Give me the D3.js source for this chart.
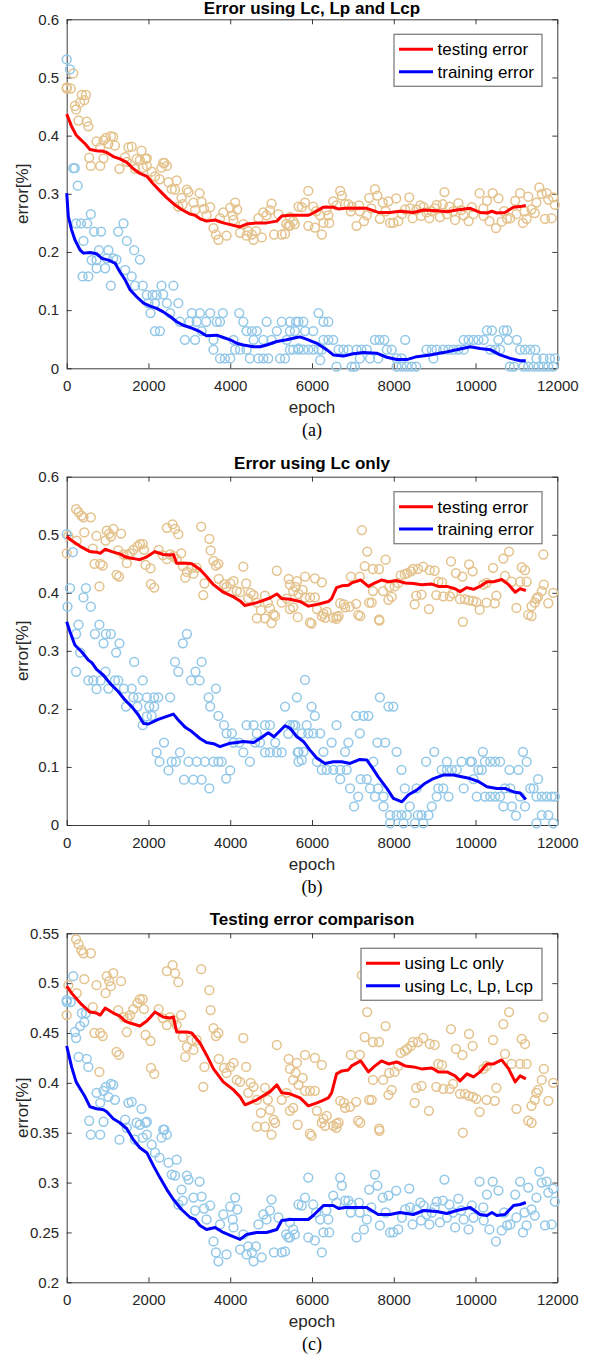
<!DOCTYPE html>
<html>
<head>
<meta charset="utf-8">
<script src="https://cdn.jsdelivr.net/npm/d3@7"></script>
<style>
  body { margin: 0; background: #fff; }
  svg { display: block; font-family: "Liberation Sans", Arial, Helvetica, sans-serif; }
</style>
</head>
<body>
<svg id="chart" width="597" height="1359"></svg>
<script>
// ---- data: [epoch, error] ----

// testing error, model using Lc, Lp and Lcp (panel a tan / panel c blue)
const aTestPts = [[0,0.481],[0,0.483],[100,0.481],[160,0.507],[200,0.451],[230,0.445],[330,0.457],[430,0.461],[370,0.47],[470,0.47],[290,0.426],[490,0.424],[530,0.416],[730,0.39],[820,0.38],[960,0.396],[1020,0.386],[1140,0.398],[1180,0.383],[900,0.392],[1080,0.399],[1510,0.38],[1590,0.381],[1830,0.374],[550,0.362],[900,0.361],[1430,0.363],[1710,0.36],[1960,0.361],[2390,0.353],
  [590,0.348],[820,0.348],[1290,0.343],[1470,0.355],[1670,0.343],[1790,0.358],[1930,0.36],[1960,0.348],[1860,0.345],[2080,0.338],[2160,0.33],[2270,0.325],[2320,0.345],[2450,0.348],[2360,0.353],[2490,0.32],[2570,0.308],[2650,0.307],[2690,0.323],[2730,0.278],[2810,0.293],[2840,0.282],[2940,0.307],[2980,0.303],[3100,0.285],[3140,0.272],[3250,0.301],[3300,0.286],[3360,0.274],[3420,0.263],[3510,0.277],[3590,0.241],[3650,0.23],[3710,0.221],[3750,0.258],[3830,0.268],[3910,0.228],[4000,0.276],[4060,0.263],[4120,0.285],[4170,0.273],[4080,0.255],[4240,0.233],[4320,0.248],[4400,0.228],[4440,0.236],[4530,0.23],[4570,0.221],[4630,0.236],[4690,0.258],[4770,0.225],[4810,0.268],[4890,0.263],[4970,0.272],[5010,0.283],[5070,0.23],[5180,0.265],[5260,0.23],[5340,0.231],[5370,0.248],[5420,0.245],[5540,0.253],[5670,0.278],
  [5460,0.26],[5460,0.245],[5580,0.248],[5830,0.285],[5750,0.277],[5910,0.305],[5910,0.245],[6030,0.278],[6070,0.242],[6200,0.263],[6240,0.23],[6280,0.25],[6400,0.263],[6420,0.25],[6520,0.287],[6690,0.305],[6730,0.297],[6810,0.282],[6890,0.282],[6970,0.278],[7090,0.245],[7170,0.27],[7270,0.253],[7340,0.263],[7400,0.293],[7540,0.308],[7600,0.297],[7660,0.257],[7730,0.285],[7870,0.287],[7910,0.25],[7990,0.25],[8060,0.292],[8110,0.253],[8280,0.273],[8380,0.294],[8460,0.258],[8560,0.273],[8670,0.262],[8730,0.277],[8870,0.258],[8930,0.27],[9050,0.281],[9130,0.26],[9200,0.282],[9240,0.303],[9360,0.278],[9500,0.255],[9580,0.284],[9710,0.263],[9830,0.253],[9910,0.277],[10100,0.301],[10190,0.275],[10280,0.288],[10340,0.253],[10420,0.301],[10500,0.241],[10560,0.292],[10640,0.252],[10770,0.257],[10850,0.258],[10970,0.288],[11090,0.301],[11160,0.25],[11250,0.257],[11290,0.295],[11370,0.273],[11450,0.267],[11490,0.285],[11560,0.311],[11620,0.3],[11700,0.257],[11740,0.301],[11860,0.258],[11900,0.294],[11940,0.281],[11780,0.29],
  [6100,0.27],[6350,0.272],[6600,0.28],[6950,0.27],[7150,0.28],[7450,0.275],[7800,0.27],[8200,0.265],[8400,0.275],[8650,0.28],[8800,0.268],[9000,0.275],[9300,0.265],[9450,0.27],[9650,0.272],[9950,0.265],[10200,0.262],[10700,0.27],[11000,0.265],[11200,0.27]];

const aTestLine = [[0,0.437],[120,0.416],[230,0.401],[330,0.394],[450,0.386],[570,0.376],[730,0.374],[900,0.373],[980,0.371],[1140,0.364],[1300,0.36],[1470,0.354],[1630,0.343],[1790,0.335],[1960,0.33],[2120,0.317],[2280,0.305],[2450,0.293],[2610,0.283],[2810,0.273],[3020,0.265],[3140,0.263],[3260,0.257],[3420,0.253],[3630,0.255],[3830,0.25],[4000,0.247],[4240,0.243],[4400,0.248],[4650,0.25],[4890,0.25],[5140,0.253],[5260,0.262],[5460,0.263],[5710,0.263],[5910,0.263],[6030,0.267],[6280,0.277],[6400,0.277],[6520,0.277],[6650,0.274],[6810,0.275],[7010,0.275],[7340,0.275],[7620,0.268],[7910,0.268],[8150,0.27],[8480,0.268],[8730,0.272],[9050,0.271],[9300,0.269],[9540,0.272],[9870,0.275],[10110,0.268],[10280,0.267],[10400,0.27],[10520,0.267],[10720,0.268],[10930,0.277],[11090,0.278],[11230,0.28]];

// training error, model using Lc, Lp and Lcp (panel a blue)
const aTrainPts = [[0,0.531],[80,0.514],[160,0.344],[200,0.344],[270,0.314],[590,0.265],[230,0.249],[350,0.249],[500,0.249],[410,0.219],[670,0.235],[840,0.235],[390,0.158],[530,0.158],[610,0.186],[730,0.186],[790,0.203],[1020,0.203],[730,0.172],[940,0.172],[980,0.189],[1140,0.189],[1080,0.142],[1260,0.235],[1390,0.249],[1220,0.187],[1470,0.219],[1650,0.203],[1790,0.187],[1430,0.169],[1590,0.158],[1670,0.142],[1860,0.142],[1960,0.126],[2000,0.112],[2100,0.126],[2160,0.112],[2050,0.095],[2200,0.126],[2320,0.142],[2360,0.127],[2450,0.112],[2610,0.142],[2530,0.095],[2730,0.112],[2770,0.08],[2160,0.064],[2280,0.064],[2890,0.049],[3060,0.095],[3000,0.08],[3180,0.08],[3140,0.049],[3260,0.095],[3300,0.064],[3410,0.08],[3510,0.095],[3590,0.049],[3670,0.08],[3750,0.08],[3820,0.095],[3590,0.032],[3750,0.017],[3870,0.017],[4000,0.017],[4080,0.049],[4120,0.032],[4220,0.095],[4320,0.08],[4400,0.064],[4530,0.064],[4650,0.064],[4240,0.032],[4400,0.032],[4480,0.017],[4690,0.017],[4810,0.017],[4930,0.017],[4570,0.049],[4810,0.049],[4890,0.08],[5140,0.064],[5260,0.08],[5010,0.049],[5220,0.017],[5340,0.017],[5380,0.049],[5460,0.064],[5610,0.08],[5670,0.034],
  [5460,0.08],[5670,0.08],[5790,0.08],[5580,0.064],[5830,0.064],[6030,0.064],[6160,0.095],[6280,0.08],[6400,0.08],[5460,0.032],[5540,0.032],[5670,0.032],[5790,0.032],[5910,0.032],[6030,0.032],[6160,0.032],[6240,0.032],[6200,0.014],[6280,0.049],[6400,0.049],[6520,0.049],[6600,0.003],[6650,0.032],[6770,0.032],[6890,0.032],[7090,0.032],[7210,0.032],[7340,0.032],[6970,0.003],[7050,0.003],[7170,0.017],[7420,0.017],[7620,0.017],[7540,0.049],[7650,0.049],[7770,0.049],[7830,0.032],[7950,0.032],[8070,0.017],[8190,0.017],[8280,0.049],[8070,0.003],[8190,0.003],[8320,0.003],[8440,0.003],[8550,0.003],[8800,0.032],[8930,0.032],[9050,0.032],[8970,0.017],[9210,0.032],[9340,0.032],[9460,0.032],[9580,0.032],[9710,0.032],[9710,0.049],[9830,0.049],[9950,0.049],[10070,0.049],[10200,0.049],[10280,0.065],[10400,0.065],[10770,0.065],[10690,0.065],[10360,0.032],[10480,0.032],[10600,0.032],[10560,0.049],[10800,0.049],[11010,0.049],[10840,0.003],[10940,0.003],[11090,0.032],[11210,0.032],[11340,0.032],[11460,0.032],[11170,0.003],[11290,0.003],[11420,0.003],[11540,0.003],[11660,0.003],[11490,0.017],[11660,0.017],[11820,0.017],[11940,0.017],[11780,0.003],[11900,0.003]];

const aTrainLine = [[0,0.301],[40,0.261],[120,0.238],[200,0.221],[330,0.203],[410,0.198],[570,0.199],[730,0.197],[860,0.189],[1020,0.186],[1180,0.181],[1300,0.166],[1430,0.152],[1550,0.135],[1710,0.123],[1880,0.112],[2040,0.107],[2200,0.103],[2360,0.097],[2530,0.089],[2690,0.08],[2850,0.074],[3060,0.069],[3260,0.063],[3420,0.056],[3670,0.057],[3830,0.053],[4000,0.049],[4160,0.043],[4320,0.04],[4570,0.037],[4730,0.037],[4890,0.04],[5140,0.046],[5380,0.049],[5620,0.053],[5710,0.054],[5910,0.049],[6120,0.043],[6360,0.032],[6520,0.023],[6770,0.021],[7010,0.025],[7260,0.027],[7580,0.026],[7830,0.019],[8070,0.015],[8320,0.015],[8560,0.02],[8890,0.023],[9210,0.027],[9540,0.032],[9870,0.037],[10110,0.034],[10360,0.032],[10600,0.023],[10850,0.017],[11090,0.013],[11230,0.013]];

// testing error, model using Lc only (panel b tan / panel c tan)
const bTestPts = [[0,0.468],[40,0.498],[230,0.544],[290,0.539],[360,0.533],[410,0.53],[590,0.53],[430,0.504],[245,0.49],[730,0.498],[640,0.476],[680,0.45],[820,0.45],[880,0.447],[800,0.411],[980,0.507],[1040,0.502],[1140,0.51],[1080,0.497],[950,0.49],[1330,0.502],[1220,0.431],[1280,0.428],[1260,0.473],[1390,0.466],[1490,0.465],[1550,0.468],[1470,0.451],[1630,0.474],[1730,0.48],[1790,0.484],[1860,0.484],[1890,0.474],[1930,0.448],[2050,0.442],[2060,0.415],[2140,0.409],[2250,0.474],[2350,0.465],[2450,0.458],[2530,0.466],[2610,0.463],[2690,0.458],[2450,0.512],[2590,0.518],[2650,0.51],[2730,0.501],[2800,0.468],[2840,0.446],[2900,0.426],[2940,0.436],[3060,0.443],[3100,0.433],[3180,0.443],[3290,0.514],[3490,0.493],[3520,0.473],[3590,0.455],[3650,0.447],[3710,0.45],[3340,0.396],[3370,0.416],[3720,0.424],[3850,0.415],[3910,0.41],[4000,0.416],[4080,0.42],[4160,0.403],[4240,0.401],[4320,0.445],[4390,0.416],[4440,0.39],[4500,0.4],[4570,0.396],[4650,0.383],[4750,0.37],[4850,0.395],[4920,0.383],[4970,0.373],[5060,0.363],[5140,0.438],[5260,0.383],[5380,0.39],[5430,0.424],[5540,0.403],[5600,0.41],[5670,0.398],
  [4650,0.356],[4850,0.356],[5010,0.348],[5100,0.36],[5650,0.358],[5950,0.349],[5990,0.347],[6320,0.357],[6520,0.357],[6600,0.359],[6240,0.36],[7180,0.36],[7650,0.352],[9690,0.35],[11370,0.36],
  [7220,0.508],[7350,0.471],[7800,0.457],[7290,0.446],[7490,0.441],[7640,0.441],[6950,0.428],[7170,0.428],[5830,0.428],[6070,0.425],[6240,0.418],[5630,0.42],[5770,0.405],[5460,0.414],[5830,0.392],[5950,0.392],[6070,0.392],[5540,0.375],[5460,0.372],[6120,0.372],[6280,0.364],[6360,0.367],[6650,0.36],[6600,0.355],[6690,0.382],[6780,0.38],[6810,0.375],[7080,0.381],[6930,0.376],[7130,0.362],[7400,0.383],[7460,0.383],[7870,0.388],[7950,0.393],[7490,0.403],[7740,0.403],[7640,0.354],[7890,0.41],[8020,0.411],[8110,0.417],[8170,0.43],[8270,0.432],[8330,0.434],[8420,0.437],[8470,0.441],[8590,0.441],[8720,0.445],[8880,0.439],[9000,0.438],[9090,0.419],[9180,0.418],[8510,0.38],[8550,0.395],[8680,0.397],[8860,0.372],[9040,0.396],[9210,0.394],[9370,0.394],[9450,0.399],[9620,0.389],[9740,0.389],[9840,0.387],[9940,0.386],[10020,0.384],[10100,0.371],[10270,0.383],[10470,0.382],[10510,0.395],[9400,0.454],[9520,0.434],[9680,0.428],[9840,0.449],[9930,0.437],[10190,0.414],[10270,0.417],[10430,0.443],[10680,0.459],[10720,0.429],[10820,0.471],[10880,0.419],[11130,0.444],[11210,0.439],[11250,0.419],[11090,0.419],[11000,0.374],[11290,0.362],[11370,0.377],[11450,0.383],[11490,0.39],[11530,0.393],[11620,0.403],[11670,0.414],[11660,0.466],[11780,0.382],[11900,0.4]];

const bTestLine = [[0,0.497],[120,0.49],[330,0.48],[570,0.471],[730,0.47],[820,0.468],[940,0.475],[1140,0.47],[1300,0.467],[1430,0.462],[1550,0.46],[1710,0.458],[1790,0.457],[1960,0.462],[2160,0.471],[2360,0.466],[2530,0.465],[2610,0.466],[2690,0.451],[2940,0.451],[3060,0.45],[3260,0.44],[3420,0.428],[3590,0.414],[3830,0.401],[4080,0.393],[4240,0.386],[4360,0.378],[4480,0.38],[4650,0.383],[4810,0.387],[4970,0.391],[5140,0.398],[5260,0.39],[5460,0.389],[5710,0.385],[5910,0.377],[6120,0.38],[6240,0.382],[6400,0.385],[6480,0.39],[6600,0.409],[6730,0.412],[6890,0.413],[6970,0.417],[7190,0.422],[7380,0.411],[7540,0.417],[7700,0.422],[7870,0.419],[8070,0.421],[8280,0.417],[8480,0.416],[8680,0.414],[8930,0.415],[9090,0.411],[9300,0.411],[9500,0.407],[9620,0.402],[9790,0.409],[9950,0.406],[10110,0.411],[10280,0.419],[10440,0.419],[10640,0.423],[10810,0.414],[10970,0.401],[11090,0.407],[11230,0.404]];

// training error, model using Lc only (panel b blue)
const bTrainPts = [[0,0.501],[150,0.47],[80,0.408],[20,0.376],[410,0.392],[470,0.408],[590,0.376],[290,0.345],[230,0.329],[330,0.297],[800,0.345],[690,0.329],[900,0.313],[960,0.329],[1080,0.329],[1290,0.313],[1210,0.297],[1650,0.281],[2650,0.281],[2940,0.329],[2840,0.313],[3300,0.281],[230,0.264],[530,0.249],[650,0.249],[730,0.234],[830,0.249],[950,0.264],[1020,0.235],[1180,0.249],[1260,0.249],[1400,0.235],[1590,0.235],[1450,0.204],[1630,0.22],[1750,0.22],[1860,0.249],[1730,0.204],[1860,0.172],[1960,0.22],[2140,0.22],[2020,0.204],[2140,0.204],[1960,0.187],[2080,0.188],[2240,0.22],[2530,0.22],[2200,0.125],[2270,0.109],[2380,0.142],[2490,0.094],[2570,0.109],[2670,0.109],[2770,0.125],[2870,0.078],[2980,0.109],[3100,0.078],[3180,0.109],[3300,0.078],[3380,0.109],[3490,0.063],[3590,0.109],[3710,0.109],[3790,0.109],[3900,0.08],[4000,0.094],[3910,0.158],[4040,0.158],[3850,0.172],[3710,0.188],[3510,0.204],[3470,0.22],[3650,0.235],[2730,0.264],[3040,0.249],[3150,0.264],[3250,0.249],[4080,0.142],[4220,0.142],[4320,0.125],[4400,0.172],[4570,0.172],[4480,0.109],[4610,0.142],[4730,0.142],[4650,0.158],[4850,0.125],[4970,0.125],[4850,0.172],[4970,0.172],[5100,0.142],[5140,0.125],[5260,0.125],[5340,0.204],[5420,0.157],[5460,0.172],[5590,0.172],[5650,0.125],[5670,0.109],[5630,0.22],
  [5540,0.172],[5830,0.25],[5750,0.158],[5910,0.158],[6030,0.158],[6200,0.158],[5670,0.126],[5790,0.126],[5750,0.112],[5870,0.172],[5990,0.204],[6070,0.188],[6120,0.109],[6280,0.126],[6240,0.095],[6360,0.095],[6520,0.095],[6690,0.095],[6850,0.095],[6480,0.142],[6600,0.172],[6690,0.079],[6810,0.126],[6890,0.142],[6930,0.063],[7030,0.032],[7080,0.188],[7260,0.188],[7380,0.188],[7170,0.158],[7130,0.049],[7190,0.079],[7340,0.079],[7420,0.063],[7500,0.109],[7540,0.049],[7750,0.049],[7600,0.142],[7790,0.142],[7660,0.22],[7750,0.032],[7620,0.063],[7870,0.204],[7990,0.204],[8070,0.126],[7910,0.017],[8070,0.017],[8190,0.017],[8320,0.017],[7910,0.003],[8240,0.003],[8520,0.003],[8720,0.003],[8190,0.095],[8270,0.063],[8390,0.032],[8590,0.017],[8680,0.017],[8560,0.063],[8790,0.109],[8850,0.017],[8930,0.032],[8990,0.126],[9050,0.049],[9090,0.063],[9210,0.063],[9170,0.095],[9300,0.095],[9420,0.095],[9540,0.095],[9300,0.109],[9340,0.049],[9660,0.109],[9870,0.109],[9910,0.109],[9710,0.063],[9950,0.079],[10030,0.049],[10230,0.049],[10360,0.049],[10480,0.049],[10600,0.049],[10070,0.095],[10150,0.095],[10180,0.126],[10230,0.109],[10360,0.109],[10480,0.109],[10600,0.109],[10680,0.032],[10890,0.032],[10830,0.095],[11050,0.095],[10720,0.063],[10850,0.063],[10990,0.016],[11160,0.126],[11250,0.109],[11090,0.049],[11210,0.032],[11340,0.063],[11420,0.063],[11530,0.079],[11490,0.003],[11620,0.017],[11780,0.017],[11490,0.049],[11620,0.049],[11740,0.049],[11860,0.049],[11940,0.049],[11900,0.003]];

const bTrainLine = [[0,0.35],[80,0.333],[200,0.31],[370,0.298],[530,0.284],[610,0.28],[730,0.268],[900,0.258],[1060,0.244],[1260,0.23],[1430,0.215],[1590,0.204],[1750,0.19],[1880,0.175],[2000,0.174],[2120,0.178],[2240,0.182],[2450,0.187],[2610,0.191],[2730,0.181],[2890,0.169],[3060,0.161],[3260,0.149],[3420,0.142],[3590,0.14],[3750,0.135],[4000,0.141],[4160,0.142],[4320,0.144],[4570,0.142],[4730,0.149],[4930,0.159],[5070,0.152],[5200,0.161],[5340,0.171],[5460,0.167],[5630,0.152],[5790,0.144],[5950,0.129],[6120,0.115],[6320,0.106],[6520,0.109],[6730,0.109],[6930,0.106],[7170,0.113],[7340,0.112],[7460,0.1],[7620,0.083],[7830,0.063],[7990,0.046],[8200,0.04],[8360,0.052],[8560,0.06],[8770,0.072],[8970,0.08],[9210,0.086],[9460,0.086],[9660,0.083],[9870,0.08],[10070,0.075],[10280,0.066],[10520,0.063],[10720,0.063],[10930,0.057],[11090,0.055],[11230,0.044]];

// ticks and labels
const xTicks = [0, 2000, 4000, 6000, 8000, 10000, 12000];
const yTicksAB = [0, 0.1, 0.2, 0.3, 0.4, 0.5, 0.6];
const yTicksC = [0.2, 0.25, 0.3, 0.35, 0.4, 0.45, 0.5, 0.55];
const titles = ["Error using Lc, Lp and Lcp", "Error using Lc only", "Testing error comparison"];
const captions = ["(a)", "(b)", "(c)"];
const legendAB = ["testing error", "training error"];
const legendC = ["using Lc only", "using Lc, Lp, Lcp"];

// colours
const tan = "#e4c28c", lightBlue = "#93c8e8", red = "#ff0000", blue = "#0000ff";

const svg = d3.select("#chart");
const left = 66.7, right = 557.3;
const x = d3.scaleLinear().domain([0, 12000]).range([left, right]);

const panels = [
  { top: 19.3, bottom: 368.3, yDomain: [0, 0.6], yTicks: yTicksAB, title: titles[0], caption: captions[0],
    pts: [[aTestPts, tan], [aTrainPts, lightBlue]], lines: [[aTestLine, red], [aTrainLine, blue]],
    legend: legendAB, legW: 148 },
  { top: 476.7, bottom: 825, yDomain: [0, 0.6], yTicks: yTicksAB, title: titles[1], caption: captions[1],
    pts: [[bTestPts, tan], [bTrainPts, lightBlue]], lines: [[bTestLine, red], [bTrainLine, blue]],
    legend: legendAB, legW: 148 },
  { top: 933.3, bottom: 1282.3, yDomain: [0.2, 0.55], yTicks: yTicksC, title: titles[2], caption: captions[2],
    pts: [[bTestPts, tan], [aTestPts, lightBlue]], lines: [[bTestLine, red], [aTestLine, blue]],
    legend: legendC, legW: 181 }
];

const fmt = d => String(+d.toFixed(2));
const axisColor = "#262626";

panels.forEach(p => {
  const y = d3.scaleLinear().domain(p.yDomain).range([p.bottom, p.top]);
  const g = svg.append("g");

  // axes (ticks point inward on all four sides)
  const styleAxis = sel => {
    sel.selectAll("path, line").attr("stroke", axisColor).attr("stroke-width", 0.9);
    sel.selectAll("text").attr("fill", axisColor).style("font-size", "15px")
      .style("font-family", '"Liberation Sans", Arial, sans-serif');
  };
  g.append("g").attr("transform", `translate(0,${p.bottom})`)
    .call(d3.axisBottom(x).tickValues(xTicks).tickSizeInner(-5).tickSizeOuter(0).tickPadding(12.5).tickFormat(d3.format("d")))
    .call(styleAxis);
  g.append("g").attr("transform", `translate(0,${p.top})`)
    .call(d3.axisTop(x).tickValues(xTicks).tickSizeInner(-5).tickSizeOuter(0).tickFormat(""))
    .call(styleAxis);
  g.append("g").attr("transform", `translate(${left},0)`)
    .call(d3.axisLeft(y).tickValues(p.yTicks).tickSizeInner(-5).tickSizeOuter(0).tickPadding(7.5).tickFormat(fmt))
    .call(styleAxis);
  g.append("g").attr("transform", `translate(${right},0)`)
    .call(d3.axisRight(y).tickValues(p.yTicks).tickSizeInner(-5).tickSizeOuter(0).tickFormat(""))
    .call(styleAxis);
  g.selectAll(".domain").attr("fill", "none");

  // raw error markers
  p.pts.forEach(([data, color]) => {
    g.append("g").selectAll("circle").data(data).join("circle")
      .attr("cx", d => x(d[0])).attr("cy", d => y(d[1])).attr("r", 4.4)
      .attr("fill", "none").attr("stroke", color).attr("stroke-width", 1.5);
  });

  // smoothed curves
  const line = d3.line().x(d => x(d[0])).y(d => y(d[1]));
  p.lines.forEach(([data, color]) => {
    g.append("path").datum(data).attr("d", line).attr("fill", "none")
      .attr("stroke", color).attr("stroke-width", 3).attr("stroke-linejoin", "round");
  });

  // title, axis labels, caption
  g.append("text").attr("x", (left + right) / 2).attr("y", Math.max(p.top - 8, 13.5)).attr("text-anchor", "middle")
    .style("font-size", "17px").style("font-weight", "bold").attr("fill", "#000").text(p.title);
  g.append("text").attr("x", (left + right) / 2).attr("y", p.bottom + 44.5).attr("text-anchor", "middle")
    .style("font-size", "17px").attr("fill", axisColor).text("epoch");
  g.append("text").attr("transform", `translate(28,${(p.top + p.bottom) / 2}) rotate(-90)`)
    .attr("text-anchor", "middle").style("font-size", "17px").attr("fill", axisColor).text("error[%]");
  g.append("text").attr("x", (left + right) / 2).attr("y", p.bottom + 67.5).attr("text-anchor", "middle")
    .style("font-family", '"Liberation Serif", "Times New Roman", serif').style("font-size", "18px")
    .attr("fill", "#000").text(p.caption);

  // legend box
  const lx = 542 - p.legW, ly = p.top + 15;
  const leg = g.append("g").attr("transform", `translate(${lx},${ly})`);
  leg.append("rect").attr("width", p.legW).attr("height", 52).attr("fill", "#fff")
    .attr("stroke", "#808080").attr("stroke-width", 1.3);
  p.legend.forEach((name, i) => {
    const yy = 15 + i * 22.4;
    leg.append("line").attr("x1", 5).attr("x2", 39).attr("y1", yy).attr("y2", yy)
      .attr("stroke", p.lines[i][1]).attr("stroke-width", 3);
    leg.append("text").attr("x", 43.5).attr("y", yy + 6).style("font-size", "17px")
      .attr("fill", "#000").text(name);
  });
});
</script>
</body>
</html>
